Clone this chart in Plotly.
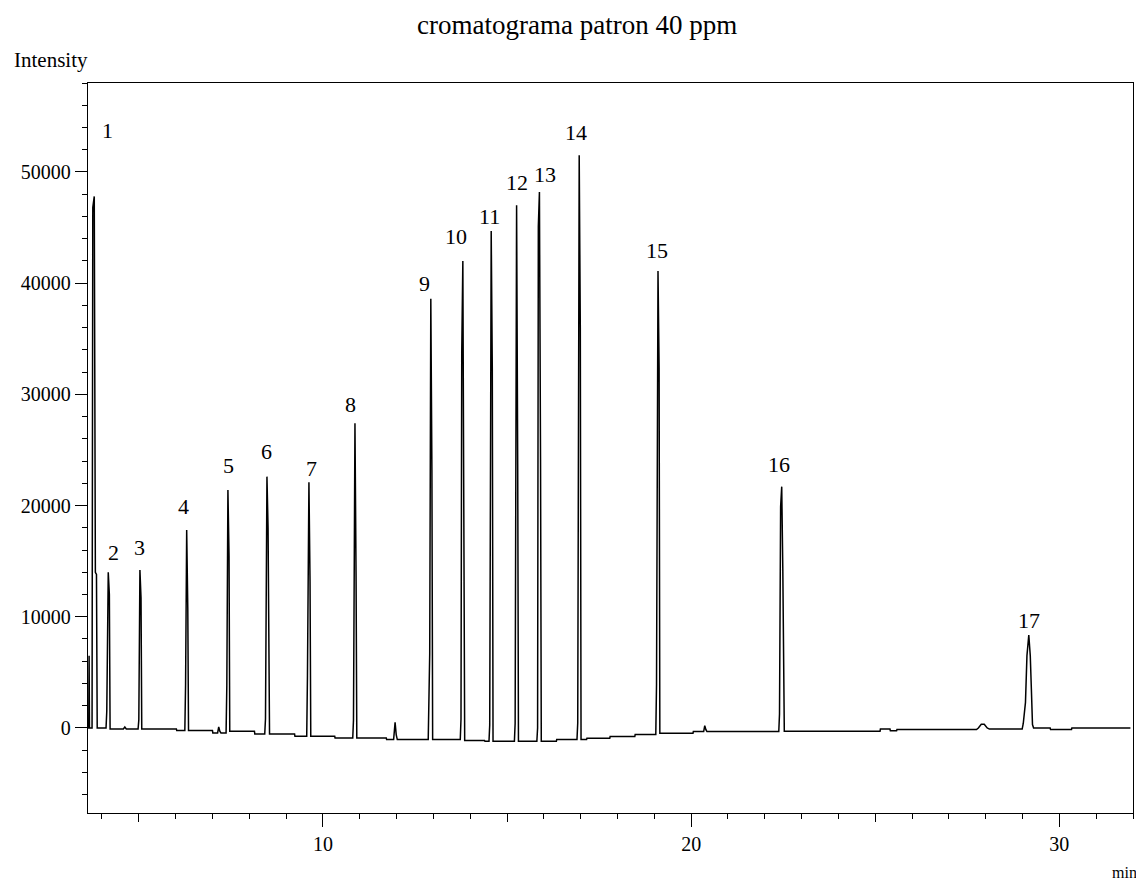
import plotly.graph_objects as go

# ---- chromatogram trace (retention time in min, intensity) ----
time_min = [
    3.62, 3.64, 3.65, 3.66,
    3.73, 3.75, 3.79, 3.82, 3.85, 3.87,
    4.11, 4.13, 4.17, 4.20, 4.22,
    4.58, 4.62, 4.66,
    4.98, 5.00, 5.03, 5.06, 5.08,
    6.02, 6.03,
    6.25, 6.27, 6.30, 6.33, 6.35,
    7.00, 7.01, 7.14, 7.17, 7.20, 7.23,
    7.37, 7.39, 7.42, 7.45, 7.47,
    8.14, 8.15,
    8.42, 8.44, 8.48, 8.51, 8.53, 8.55,
    9.23, 9.24,
    9.56, 9.58, 9.62, 9.65, 9.67,
    10.32, 10.33,
    10.81, 10.83, 10.85, 10.87, 10.90, 10.92,
    11.72, 11.73,
    11.92, 11.96, 11.99, 12.02,
    12.86, 12.88, 12.90, 12.93, 12.96, 12.98,
    13.73, 13.75, 13.77, 13.80, 13.83, 13.85,
    14.39, 14.40,
    14.51, 14.53, 14.57, 14.60, 14.62,
    15.20, 15.22, 15.24, 15.26, 15.29, 15.31,
    15.81, 15.83, 15.85, 15.88, 15.91, 15.93,
    16.34, 16.35,
    16.90, 16.92, 16.96, 16.99, 17.01,
    17.16, 17.17, 17.79, 17.80, 18.47, 18.48,
    19.04, 19.06, 19.10, 19.13, 19.15,
    20.05, 20.06,
    20.34, 20.37, 20.40, 20.43,
    22.38, 22.40, 22.43, 22.46, 22.49, 22.51, 22.53,
    25.13, 25.14, 25.40, 25.41, 25.58, 25.59,
    27.75, 27.80, 27.88, 27.96, 28.04, 28.10,
    28.99, 29.02, 29.08, 29.12, 29.17, 29.21, 29.24, 29.27, 29.30,
    29.75, 29.76, 30.33, 30.34, 31.93,
]
intensity = [
    0, 0, 6500, 0,
    0, 46800, 47800, 14000, 13800, 0,
    0, 1500, 14000, 12000, -90,
    -90, 80, -90,
    -90, 700, 14200, 11700, -90,
    -90, -240,
    -240, 3900, 17800, 10700, -240,
    -240, -450, -450, 100, -300, -450,
    -450, 3800, 21400, 15500, -300,
    -300, -540,
    -540, 800, 22600, 18000, 8200, -540,
    -540, -750,
    -750, 4700, 22100, 13200, -750,
    -750, -900,
    -900, 700, 26900, 27400, 13700, -900,
    -900, -1050,
    -1050, 500, -600, -1050,
    -1050, 2900, 6650, 38600, 23200, -1050,
    -1050, 800, 33700, 42000, 21500, -1140,
    -1140, -1200,
    -1200, 270, 44700, 32300, -1200,
    -1200, 400, 38000, 47000, 23700, -1200,
    -1200, 0, 45100, 48200, 24100, -1200,
    -1200, -1050,
    -1050, 450, 51500, 36000, -1050,
    -1050, -930, -930, -780, -780, -600,
    -600, 3950, 41100, 32400, -480,
    -480, -330,
    -330, 200, -150, -330,
    -330, 1260, 19900, 21700, 14100, 7100, -300,
    -300, -100, -100, -250, -250, -150,
    -150, 0, 330, 330, 0, -100,
    -100, 400, 2300, 6500, 8360, 6500, 3500, 300, 0,
    0, -150, -150, 0, 0,
]

# ---- peak labels ----
peak_labels = [str(i) for i in range(1, 18)]
peak_rt = [3.79, 4.17, 5.03, 6.30, 7.42, 8.48, 9.62, 10.87, 12.93,
           13.80, 14.57, 15.26, 15.88, 16.96, 19.10, 22.46, 29.17]
peak_height = [47800, 14000, 14200, 17800, 21400, 22600, 22100, 27400, 38600,
               42000, 44700, 47000, 48200, 51500, 41100, 21700, 8360]

y_ticks = [0, 10000, 20000, 30000, 40000, 50000]
x_ticks = [10, 20, 30]
x_mid_ticks = [5, 15, 25]

# label offsets in pixels (dx, dy up)
label_offsets = [(13, 66), (5, 20), (0, 23), (-3, 24), (1, 24), (0, 25), (3, 14),
                 (-4, 19), (-6, 15), (-7, 24), (-2, 14), (0, 23), (6, 17),
                 (-3, 23), (-1, 20), (-3, 22), (0, 14)]

SERIF = "Liberation Serif"
XR = [3.62, 32.0]
YR = [-7650, 58000]

fig = go.Figure()
fig.add_trace(go.Scatter(x=time_min, y=intensity, mode="lines",
                         line=dict(color="black", width=1.5),
                         hoverinfo="skip", showlegend=False))
# dummy trace for the medium-tick overlay axis
fig.add_trace(go.Scatter(x=[XR[0]], y=[0], xaxis="x2", mode="markers",
                         marker=dict(opacity=0), showlegend=False, hoverinfo="skip"))

annotations = []
for lab, rt, h, (dx, dy) in zip(peak_labels, peak_rt, peak_height, label_offsets):
    annotations.append(dict(x=rt, y=h, text=lab, showarrow=False,
                            xshift=dx, yshift=dy, xanchor="center", yanchor="middle",
                            font=dict(family=SERIF, size=22, color="black")))

annotations.append(dict(xref="paper", yref="paper", x=-0.0727, y=1.0315,
                        text="Intensity", showarrow=False, xanchor="left",
                        yanchor="middle", font=dict(family=SERIF, size=21, color="black")))
annotations.append(dict(xref="paper", yref="paper", x=0.992, y=-0.082,
                        text="min", showarrow=False, xanchor="center",
                        yanchor="middle", font=dict(family=SERIF, size=16, color="black")))

fig.update_layout(
    width=1136, height=881,
    margin=dict(l=88, r=3, t=83, b=68),
    paper_bgcolor="white", plot_bgcolor="white",
    title=dict(text="cromatograma patron 40 ppm", x=0.508, xref="container",
               xanchor="center", y=1 - 25 / 881, yanchor="middle", yref="container",
               font=dict(family=SERIF, size=27, color="black")),
    xaxis=dict(range=XR, showline=True, linecolor="black", linewidth=1.3, mirror=True,
               showgrid=False, zeroline=False, ticks="outside", tickvals=x_ticks,
               ticklen=13, tickwidth=1.3, tickcolor="black",
               tickfont=dict(family=SERIF, size=20, color="black"),
               minor=dict(dtick=1, tick0=0, ticks="outside", ticklen=5,
                          tickwidth=1.1, tickcolor="black", showgrid=False)),
    xaxis2=dict(range=XR, overlaying="x", anchor="y", side="bottom", showline=False,
                showgrid=False, zeroline=False, ticks="outside", tickvals=x_mid_ticks,
                ticklen=8, tickwidth=1.3, tickcolor="black", showticklabels=False),
    yaxis=dict(range=YR, showline=True, linecolor="black", linewidth=1.3, mirror=True,
               showgrid=False, zeroline=False, ticks="outside", tickvals=y_ticks,
               tickformat="d", ticklen=12, tickwidth=1.3, tickcolor="black",
               tickfont=dict(family=SERIF, size=20, color="black"),
               minor=dict(dtick=2000, tick0=0, ticks="outside", ticklen=5,
                          tickwidth=1.1, tickcolor="black", showgrid=False)),
    annotations=annotations,
)

fig.write_html("out.html")
